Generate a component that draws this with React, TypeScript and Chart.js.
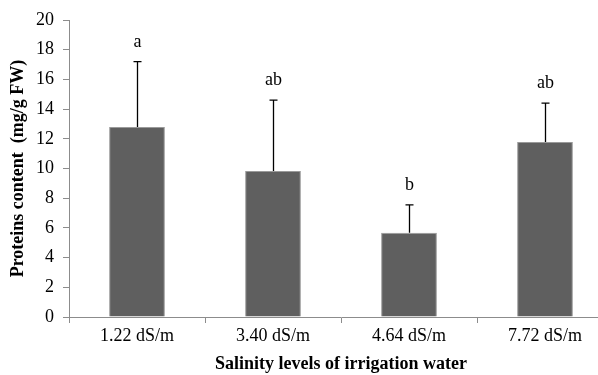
import React, { useEffect, useRef } from "react";
import { Chart, registerables } from "chart.js";

Chart.register(...registerables);

const categories = ["1.22 dS/m", "3.40 dS/m", "4.64 dS/m", "7.72 dS/m"];
const means = [12.8, 9.83, 5.67, 11.78];
const errors = [4.4, 4.77, 1.88, 2.62];
const letters = ["a", "ab", "b", "ab"];
const yTicksMin = 0;
const yTicksMax = 20;
const yStep = 2;

const SERIF = "'Liberation Serif', 'Times New Roman', serif";

const errorPlugin = {
  id: "errorBars",
  afterDatasetsDraw(chart: any) {
    const ctx = chart.ctx;
    const meta = chart.getDatasetMeta(0);
    const y = chart.scales.y;
    ctx.save();
    meta.data.forEach((bar: any, i: number) => {
      const x = Math.round(bar.x) + 0.5;
      const yTop = y.getPixelForValue(means[i] + errors[i]);
      const yBase = y.getPixelForValue(means[i]);
      ctx.strokeStyle = "#000";
      ctx.lineWidth = 1.3;
      ctx.beginPath();
      ctx.moveTo(x, yBase);
      ctx.lineTo(x, yTop);
      ctx.moveTo(x - 4, yTop);
      ctx.lineTo(x + 4, yTop);
      ctx.stroke();
      ctx.fillStyle = "#000";
      ctx.font = `18px ${SERIF}`;
      ctx.textAlign = "center";
      ctx.textBaseline = "alphabetic";
      ctx.fillText(letters[i], x, yTop - 15);
    });
    ctx.restore();
  },
};

export default function App() {
  const ref = useRef<HTMLCanvasElement>(null);
  useEffect(() => {
    if (!ref.current) return;
    const chart = new Chart(ref.current, {
      type: "bar",
      data: {
        labels: categories,
        datasets: [
          {
            data: means,
            backgroundColor: "#5f5f5f",
            borderColor: "#9a9a9a",
            borderWidth: 1,
            categoryPercentage: 1,
            barPercentage: 0.41,
          },
        ],
      },
      options: {
        animation: false,
        responsive: false,
        devicePixelRatio: 1,
        layout: { padding: { left: 0, top: 20, right: 12, bottom: 0 } },
        plugins: { legend: { display: false }, tooltip: { enabled: false } },
        scales: {
          x: {
            afterFit: (s: any) => {
              s.height = 58;
            },
            grid: {
              drawOnChartArea: false,
              offset: true,
              tickLength: 6,
              color: "#8c8c8c",
            },
            border: { color: "#8c8c8c", width: 1 },
            ticks: {
              color: "#000",
              font: { family: SERIF, size: 18 },
              padding: 2,
            },
            title: {
              display: true,
              text: "Salinity levels of irrigation water",
              color: "#000",
              font: { family: SERIF, size: 18, weight: "bold" },
              padding: { top: 2, bottom: 0 },
            },
          },
          y: {
            min: yTicksMin,
            max: yTicksMax,
            afterFit: (s: any) => {
              s.width = 69;
            },
            grid: { drawOnChartArea: false, tickLength: 6, color: "#8c8c8c" },
            border: { color: "#8c8c8c", width: 1 },
            ticks: {
              stepSize: yStep,
              color: "#000",
              font: { family: SERIF, size: 18 },
              padding: 9,
            },
            title: {
              display: true,
              text: "Proteins content  (mg/g FW)",
              color: "#000",
              font: { family: SERIF, size: 18, weight: "bold" },
              padding: { top: 8, bottom: 0 },
            },
          },
        },
      },
      plugins: [errorPlugin],
    });
    return () => chart.destroy();
  }, []);
  return (
    <div
      style={{
        position: "fixed",
        left: 0,
        top: 0,
        width: 598,
        height: 375,
        overflow: "hidden",
        background: "#fff",
      }}
    >
      <canvas ref={ref} width={625} height={375} style={{ display: "block" }} />
    </div>
  );
}
